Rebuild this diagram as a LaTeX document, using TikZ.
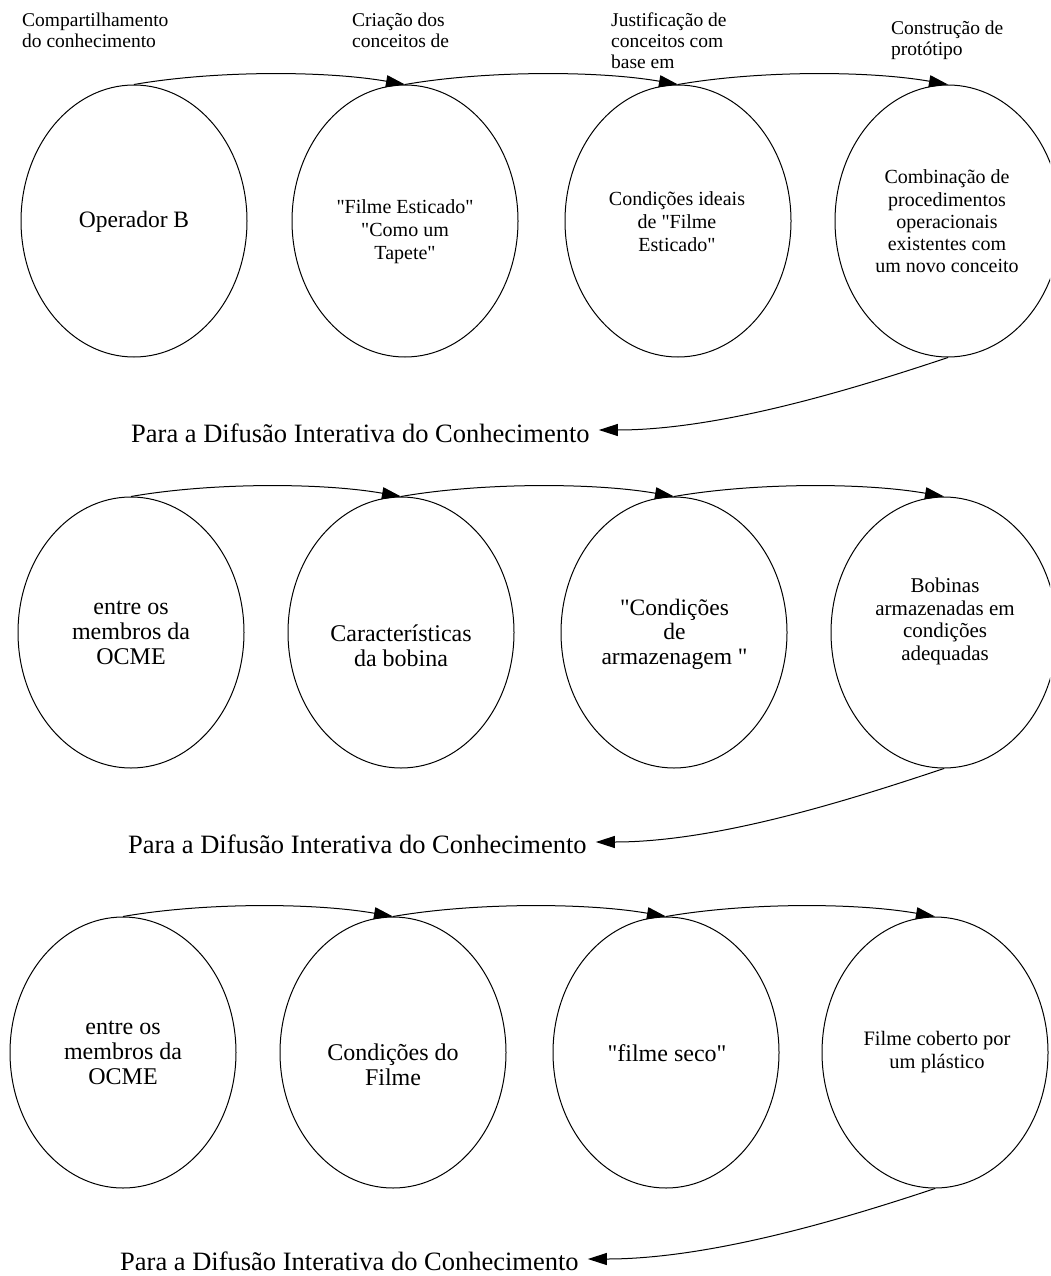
\documentclass[tikz,border=0pt]{standalone}
\usepackage{fontspec}
\setmainfont{Liberation Serif}[Ligatures=TeXOff]
\usetikzlibrary{shapes.geometric,arrows.meta}
\begin{document}
\begin{tikzpicture}[x=1pt,y=-1pt,
  bubble/.style={draw,ellipse,line width=1pt,minimum width=226pt,minimum height=271pt,inner sep=0pt},
  flow/.style={line width=1pt,-{Triangle[length=19pt,width=12pt]}},
  stage/.style={align=left,anchor=west,inner sep=0pt,font=\fontsize{19.5}{21}\selectfont},
  back/.style={anchor=west,inner sep=0pt,font=\fontsize{26.5}{30}\selectfont},
  ctext/.style={align=center,inner sep=0pt},
]
\clip (0,0) rectangle (1050,1276);
\fill[white] (0,0) rectangle (1050,1276);

% ---------- first cycle ----------
\node[bubble,minimum height=272pt] (a1) at (134,221) {};
\node[bubble,minimum height=272pt] (a2) at (405,221) {};
\node[bubble,minimum height=272pt] (a3) at (678,221) {};
\node[bubble,minimum height=272pt] (a4) at (948,221) {};

\node[ctext,font=\fontsize{23.5}{27}\selectfont] (ta1) at (134,222) {Operador B};
\node[ctext,font=\fontsize{20}{23}\selectfont] (ta2) at (405,232) {"Filme Esticado"\\"Como um\\Tapete"};
\node[ctext,font=\fontsize{20}{23}\selectfont] (ta3) at (677,222) {Condições ideais\\de "Filme\\Esticado"};
\node[ctext,font=\fontsize{20}{22.2}\selectfont] (ta4) at (947,221.5) {Combinação de\\procedimentos\\operacionais\\existentes com\\um novo conceito};

\node[stage] (la1) at (22,30) {Compartilhamento\\do conhecimento};
\node[stage] (la2) at (352,30) {Criação dos\\conceitos de};
\node[stage] (la3) at (611,41) {Justificação de\\conceitos com\\base em};
\node[stage] (la4) at (891,40.5) {Construção de\\protótipo};

\draw[flow] (a1.north) .. controls +(80,-14) and +(-80,-14) .. (a2.north);
\draw[flow] (a2.north) .. controls +(80,-14) and +(-80,-14) .. (a3.north);
\draw[flow] (a3.north) .. controls +(80,-14) and +(-80,-14) .. (a4.north);

\node[back] (r1) at (131,433) {Para a Difusão Interativa do Conhecimento};
\draw[flow] (a4.south) .. controls +(-90,30) and +(123,0) .. ([xshift=9pt,yshift=3pt]r1.east);

% ---------- second cycle ----------
\node[bubble] (b1) at (131,632.5) {};
\node[bubble] (b2) at (401,632.5) {};
\node[bubble] (b3) at (674,632.5) {};
\node[bubble] (b4) at (944,632.5) {};

\node[ctext,font=\fontsize{24}{25}\selectfont] (tb1) at (131,633) {entre os\\membros da\\OCME};
\node[ctext,font=\fontsize{24}{25}\selectfont] (tb2) at (401,645.5) {Características\\da bobina};
\node[ctext,font=\fontsize{23.5}{24.5}\selectfont] (tb3) at (674.5,634) {"Condições\\de\\armazenagem "};
\node[ctext,font=\fontsize{21}{22.5}\selectfont] (tb4) at (945,621.5) {Bobinas\\armazenadas em\\condições\\adequadas};

\draw[flow] (b1.north) .. controls +(80,-14) and +(-80,-14) .. (b2.north);
\draw[flow] (b2.north) .. controls +(80,-14) and +(-80,-14) .. (b3.north);
\draw[flow] (b3.north) .. controls +(80,-14) and +(-80,-14) .. (b4.north);

\node[back] (r2) at (128,844) {Para a Difusão Interativa do Conhecimento};
\draw[flow] (b4.south) .. controls +(-90,30) and +(123,0) .. ([xshift=9pt,yshift=2pt]r2.east);

% ---------- third cycle ----------
\node[bubble] (c1) at (123,1052.5) {};
\node[bubble] (c2) at (393,1052.5) {};
\node[bubble] (c3) at (666,1052.5) {};
\node[bubble] (c4) at (935,1052.5) {};

\node[ctext,font=\fontsize{24}{25}\selectfont] (tc1) at (123,1053) {entre os\\membros da\\OCME};
\node[ctext,font=\fontsize{24}{25}\selectfont] (tc2) at (393,1064.5) {Condições do\\Filme};
\node[ctext,font=\fontsize{24}{25}\selectfont] (tc3) at (667,1053) {"filme seco"};
\node[ctext,font=\fontsize{20.5}{23}\selectfont] (tc4) at (937,1052.5) {Filme coberto por\\um plástico};

\draw[flow] (c1.north) .. controls +(80,-14) and +(-80,-14) .. (c2.north);
\draw[flow] (c2.north) .. controls +(80,-14) and +(-80,-14) .. (c3.north);
\draw[flow] (c3.north) .. controls +(80,-14) and +(-80,-14) .. (c4.north);

\node[back] (r3) at (120,1261) {Para a Difusão Interativa do Conhecimento};
\draw[flow] (c4.south) .. controls +(-90,30) and +(123,0) .. ([xshift=9pt,yshift=2pt]r3.east);
\end{tikzpicture}
\end{document}
